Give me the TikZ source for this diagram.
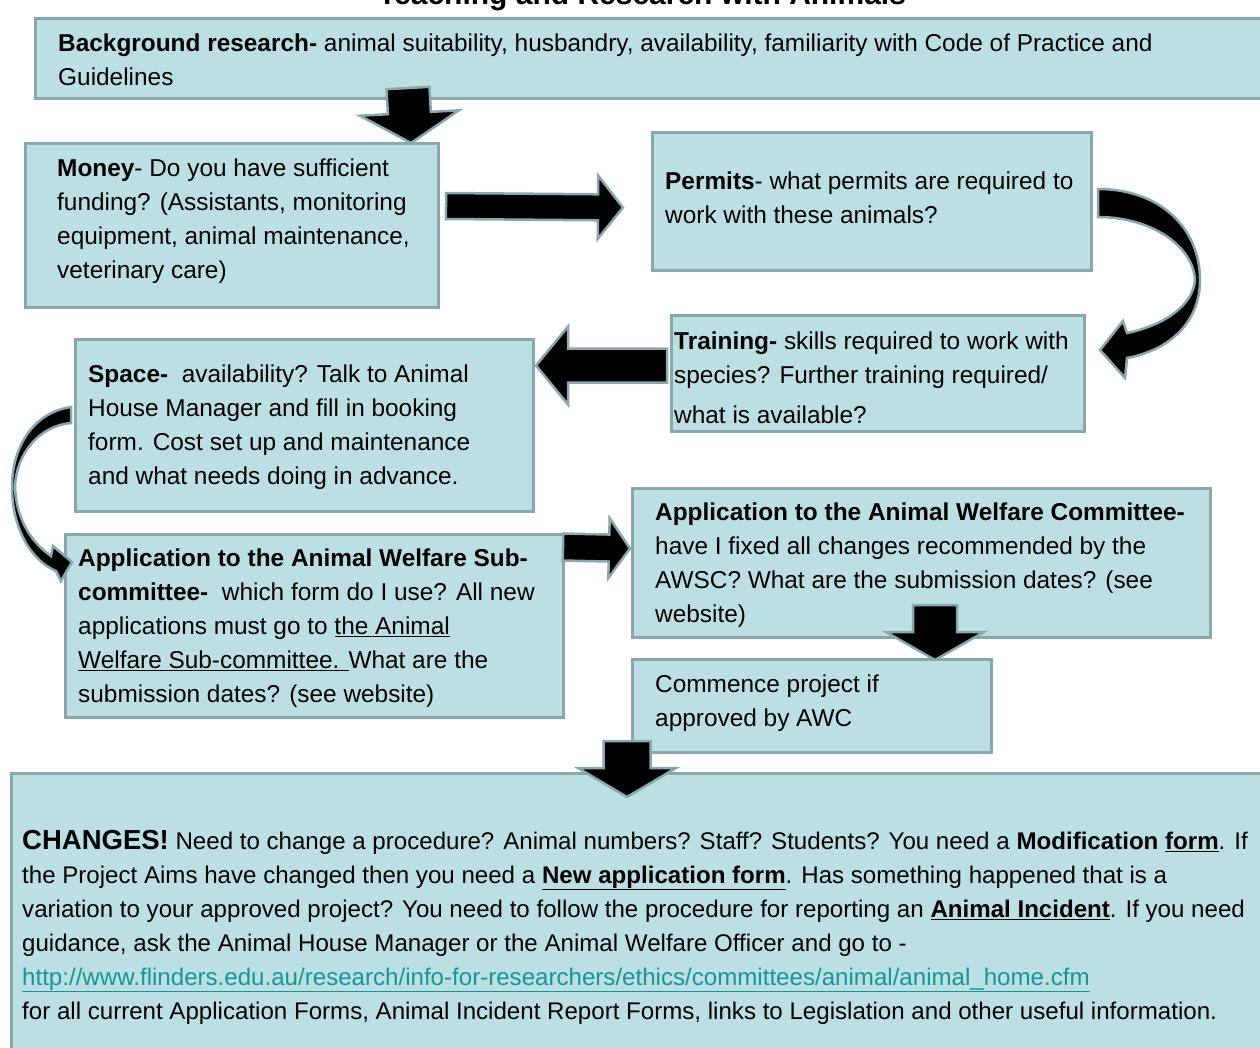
\documentclass[tikz,border=0pt]{standalone}
\usepackage{fontspec}
\setmainfont{Liberation Sans}
\usetikzlibrary{calc}

\definecolor{boxfill}{RGB}{187,223,227}
\definecolor{boxline}{RGB}{138,168,172}
\definecolor{linkcol}{RGB}{22,150,150}

\tikzset{
  panel/.style={draw=boxline, fill=boxfill, line width=3pt, inner sep=0pt,
    anchor=north west},
  txt/.style={anchor=west, align=left, inner sep=0pt,
    font=\fontsize{24.4}{34}\selectfont},
  blockarrow/.style={draw=boxline, fill=black, line width=2.5pt, line join=miter},
}

% straight block arrow: start, tip, shaft half width, head half width, head length
\newcommand\blockarrow[5]{%
  \coordinate (ba-h) at ($(#2)!#5!(#1)$);
  \path[blockarrow] ($(#1)!#3!90:(#2)$) -- ($(ba-h)!#3!90:(#2)$)
    -- ($(ba-h)!#4!90:(#2)$) -- (#2) -- ($(ba-h)!#4!-90:(#2)$)
    -- ($(ba-h)!#3!-90:(#2)$) -- ($(#1)!#3!-90:(#2)$) -- cycle;
}

\begin{document}
\begin{tikzpicture}[x=1pt, y=-1pt]
\useasboundingbox (0,0) rectangle (1260,1047);
\clip (0,0) rectangle (1260,1047);

% heading, cut by the top edge
\node[anchor=base, inner sep=0pt, font=\bfseries\fontsize{30}{36}\selectfont]
  (title) at (642,4) {Teaching and Research with Animals};

% panels
\node[panel, minimum width=1300pt, minimum height=80pt]  (bg)       at (34,17) {};
\node[panel, minimum width=413pt,  minimum height=164pt] (money)    at (24,142) {};
\node[panel, minimum width=439pt,  minimum height=138pt] (permits)  at (651,131) {};
\node[panel, minimum width=413pt,  minimum height=116pt] (training) at (670,314) {};
\node[panel, minimum width=458pt,  minimum height=172pt] (space)    at (74,338) {};
\node[panel, minimum width=498pt,  minimum height=183pt] (awsc)     at (64,533) {};
\node[panel, minimum width=578pt,  minimum height=149pt] (awc)      at (631,487) {};
\node[panel, minimum width=359pt,  minimum height=93pt]  (commence) at (631,658) {};
\node[panel, minimum width=1300pt, minimum height=300pt] (changes)  at (10,772) {};

% panel texts
\node[txt] (bgtext) at (58,60) {\textbf{Background research-} animal suitability, husbandry, availability, familiarity with Code of Practice and\\Guidelines};
\node[txt] (moneytext) at (57,221) {\textbf{Money}- Do you have sufficient\\funding? (Assistants, monitoring\\equipment, animal maintenance,\\veterinary care)};
\node[txt] (permitstext) at (665,198) {\textbf{Permits}- what permits are required to\\work with these animals?};
\node[txt] (trainingtext) at (674,378) {\textbf{Training-} skills required to work with\\species? Further training required/\\[6pt]what is available?};
\node[txt] (spacetext) at (88,427) {\textbf{Space-}\ \ availability? Talk to Animal\\House Manager and fill in booking\\form. Cost set up and maintenance\\and what needs doing in advance.};
\node[txt] (awsctext) at (78,628) {\textbf{Application to the Animal Welfare Sub-}\\\textbf{committee-}\ \ which form do I use? All new\\applications must go to \underline{the Animal}\\\underline{Welfare Sub-committee. }What are the\\submission dates? (see website)};
\node[txt] (awctext) at (655,565) {\textbf{Application to the Animal Welfare Committee-}\\have I fixed all changes recommended by the\\AWSC? What are the submission dates? (see\\website)};
\node[txt] (commencetext) at (655,703) {Commence project if\\approved by AWC};
\node[txt, font=\fontsize{24.1}{34}\selectfont] (changestext) at (22,927) {{\bfseries\fontsize{27.5}{34}\selectfont CHANGES!} Need to change a procedure? Animal numbers? Staff? Students? You need a \textbf{Modification \underline{form}}. If\\the Project Aims have changed then you need a \textbf{\underline{New application form}}. Has something happened that is a\\variation to your approved project? You need to follow the procedure for reporting an \textbf{\underline{Animal Incident}}. If you need\\guidance, ask the Animal House Manager or the Animal Welfare Officer and go to -\\{\color{linkcol}\underline{http://www.flinders.edu.au/research/info-for-researchers/ethics/committees/animal/animal\_home.cfm}}\\for all current Application Forms, Animal Incident Report Forms, links to Legislation and other useful information.};

% straight block arrows between panels
\coordinate (a1s) at ($(bg.south west)+(374,-12)$);
\coordinate (a1t) at ($(money.north east)+(-29,1)$);
\blockarrow{a1s}{a1t}{21.5pt}{49.5pt}{30pt}

\coordinate (a2s) at ($(money.north east)+(6,64)$);
\coordinate (a2t) at ($(permits.west)+(-28,6)$);
\blockarrow{a2s}{a2t}{13pt}{31.5pt}{25pt}

\coordinate (a3s) at ($(training.west)+(-3,-8)$);
\coordinate (a3t) at ($(space.east)+(1,-60)$);
\blockarrow{a3s}{a3t}{17pt}{39pt}{32pt}

\coordinate (a4s) at ($(awsc.north east)+(-2,14)$);
\coordinate (a4t) at ($(awc.west)+(-1,-14.5)$);
\blockarrow{a4s}{a4t}{13.5pt}{30pt}{21pt}

\coordinate (a5s) at ($(awc.south west)+(304,-34)$);
\coordinate (a5t) at ($(commence.north west)+(304,2)$);
\blockarrow{a5s}{a5t}{22pt}{49pt}{28pt}

\coordinate (a6s) at ($(commence.south west)+(-4,-13)$);
\coordinate (a6t) at ($(changes.north west)+(617,25)$);
\blockarrow{a6s}{a6t}{23.5pt}{49pt}{29pt}

% curved block arrow from Permits round to Training
\path[blockarrow] (1098,189) .. controls (1160,189) and (1200,228) .. (1200,280)
  .. controls (1200,322) and (1170,350) .. (1127,358)
  -- (1125,378) -- (1100,350) -- (1123,321) -- (1127,333)
  .. controls (1165,325) and (1193,305) .. (1195,280)
  .. controls (1193,245) and (1150,217) .. (1098,217) -- cycle;

% curved block arrow from Space round to the Sub-committee panel
\path[blockarrow] (71,407) .. controls (35,412) and (12,445) .. (12,487)
  .. controls (12,527) and (30,560) .. (56,571)
  -- (61,581) -- (72,562) -- (53,546) -- (51,556)
  .. controls (28,540) and (16,515) .. (15,487)
  .. controls (16,455) and (38,426) .. (71,423) -- cycle;

\end{tikzpicture}
\end{document}
